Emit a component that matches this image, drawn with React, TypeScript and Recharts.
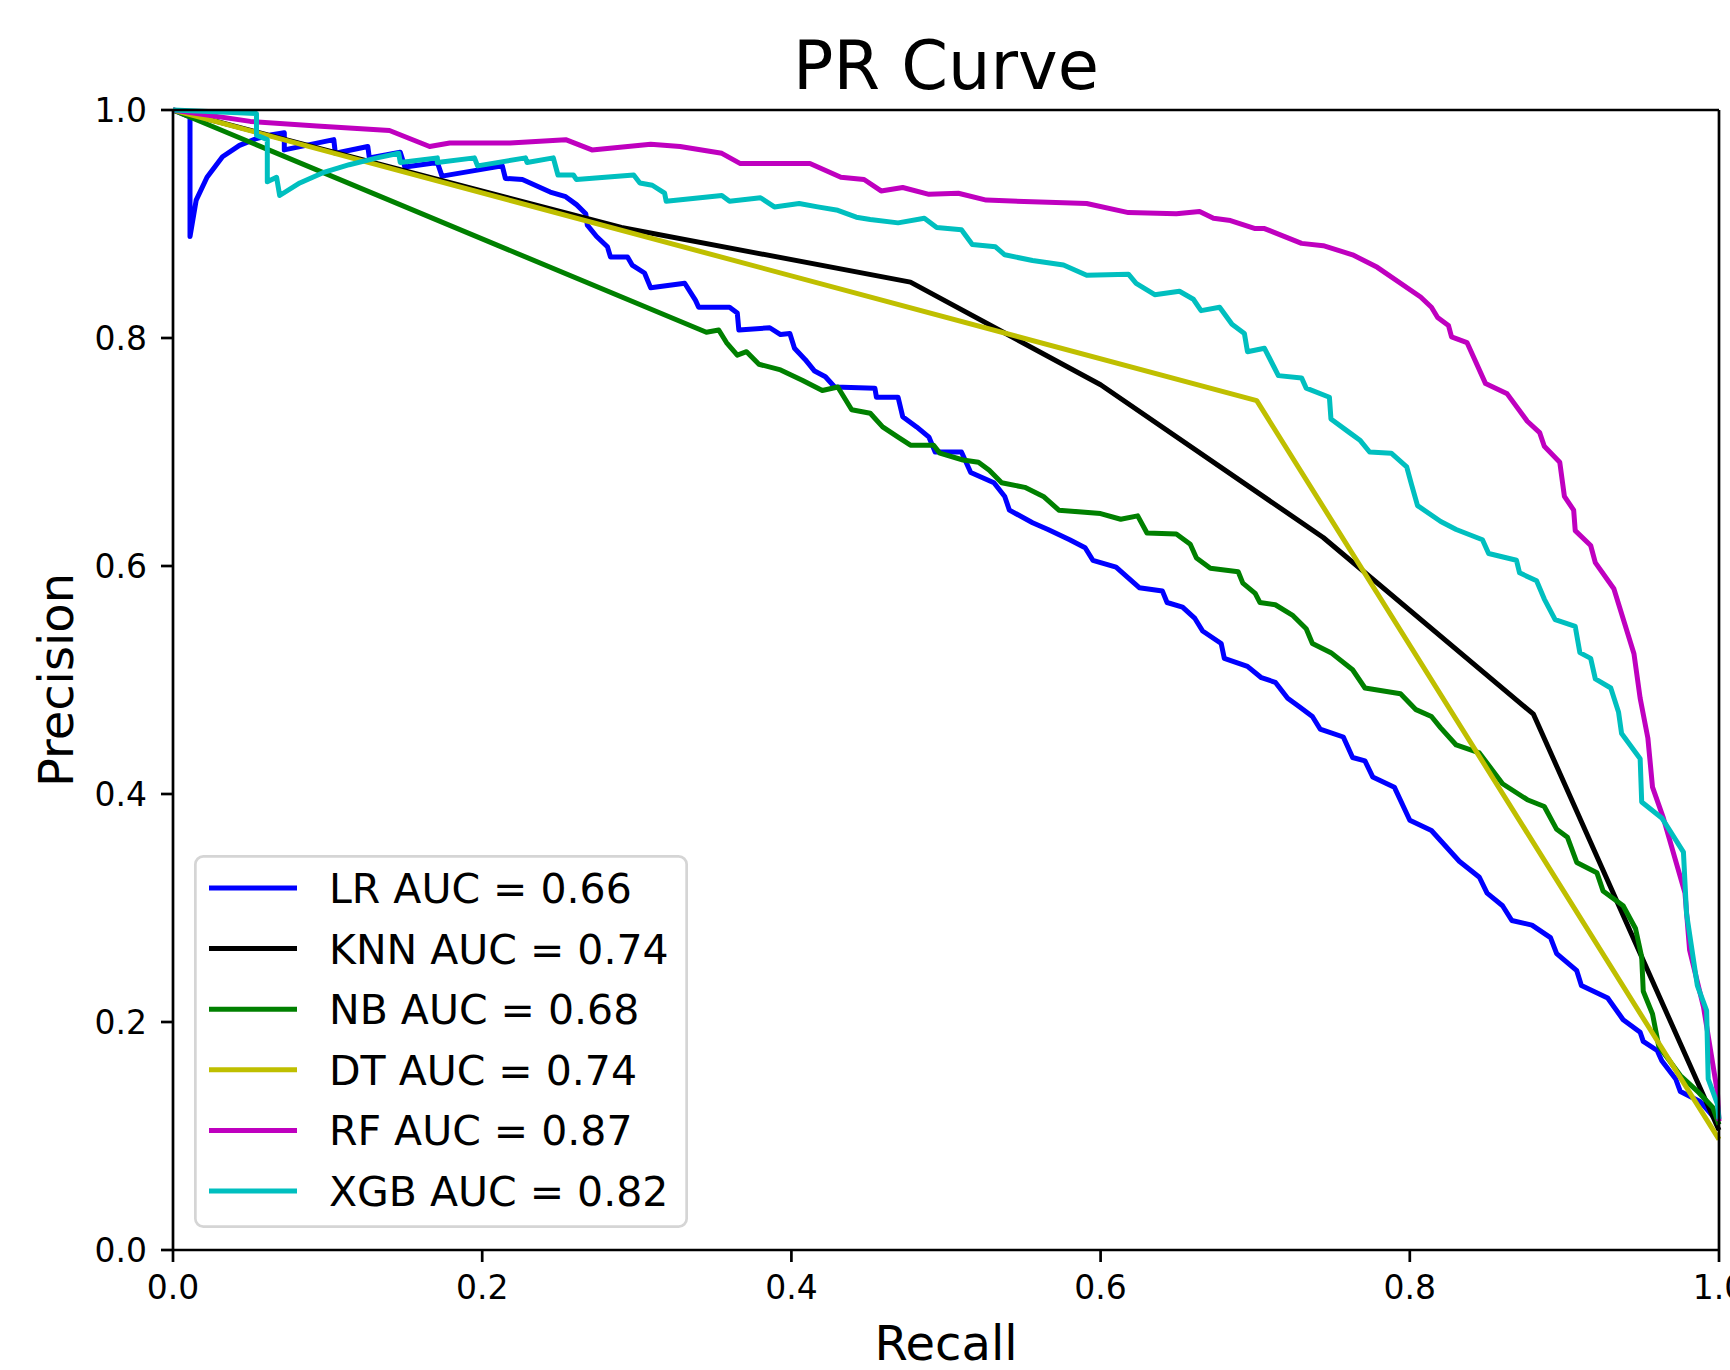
import React from 'react';
import {
  LineChart,
  Line,
  XAxis,
  YAxis,
  ReferenceLine,
  Legend
} from 'recharts';

// values: [recall, precision]
const lrPoints: [number, number][] = [
  [0, 1], [0.011, 0.994], [0.011, 0.889], [0.015, 0.921], [0.022, 0.941], [0.032, 0.959],
  [0.043, 0.969], [0.054, 0.975], [0.063, 0.978], [0.072, 0.98], [0.072, 0.965], [0.104, 0.974],
  [0.105, 0.962], [0.126, 0.968], [0.127, 0.958], [0.147, 0.963], [0.15, 0.95], [0.171, 0.954],
  [0.174, 0.942], [0.213, 0.951], [0.215, 0.94], [0.226, 0.939], [0.244, 0.928], [0.254, 0.924],
  [0.261, 0.917], [0.267, 0.909], [0.268, 0.899], [0.274, 0.889], [0.281, 0.88], [0.283, 0.871],
  [0.294, 0.871], [0.297, 0.864], [0.305, 0.857], [0.309, 0.844], [0.331, 0.848], [0.338, 0.833],
  [0.34, 0.827], [0.36, 0.827], [0.365, 0.822], [0.366, 0.807], [0.386, 0.809], [0.393, 0.803],
  [0.399, 0.804], [0.402, 0.791], [0.409, 0.781], [0.415, 0.771], [0.422, 0.766], [0.428, 0.757],
  [0.454, 0.756], [0.455, 0.748], [0.469, 0.748], [0.472, 0.731], [0.481, 0.722], [0.489, 0.713],
  [0.493, 0.7], [0.51, 0.7], [0.516, 0.682], [0.531, 0.673], [0.538, 0.661], [0.541, 0.649],
  [0.556, 0.638], [0.566, 0.632], [0.58, 0.623], [0.59, 0.616], [0.595, 0.605], [0.61, 0.599],
  [0.625, 0.581], [0.64, 0.578], [0.643, 0.568], [0.653, 0.564], [0.661, 0.554], [0.666, 0.543],
  [0.678, 0.532], [0.68, 0.519], [0.695, 0.512], [0.704, 0.502], [0.713, 0.498], [0.721, 0.484],
  [0.729, 0.476], [0.737, 0.468], [0.742, 0.457], [0.757, 0.45], [0.763, 0.432], [0.771, 0.429],
  [0.776, 0.415], [0.79, 0.406], [0.8, 0.377], [0.814, 0.368], [0.82, 0.359], [0.832, 0.341],
  [0.845, 0.327], [0.85, 0.313], [0.86, 0.302], [0.866, 0.289], [0.879, 0.285], [0.891, 0.274],
  [0.895, 0.26], [0.908, 0.245], [0.911, 0.232], [0.928, 0.221], [0.938, 0.202], [0.949, 0.191],
  [0.951, 0.183], [0.96, 0.175], [0.963, 0.166], [0.972, 0.15], [0.975, 0.139], [0.988, 0.13],
  [0.997, 0.116], [1, 0.112]
];

const knnPoints: [number, number][] = [
  [0, 1], [0.29, 0.897], [0.477, 0.849], [0.6, 0.759], [0.744, 0.625], [0.88, 0.47], [1, 0.105]
];

const nbPoints: [number, number][] = [
  [0, 1], [0.345, 0.805], [0.353, 0.807], [0.358, 0.796], [0.365, 0.785], [0.371, 0.788],
  [0.379, 0.777], [0.393, 0.772], [0.407, 0.763], [0.42, 0.754], [0.43, 0.757], [0.439, 0.737],
  [0.451, 0.734], [0.459, 0.722], [0.469, 0.713], [0.477, 0.706], [0.492, 0.706], [0.496, 0.699],
  [0.511, 0.693], [0.521, 0.691], [0.528, 0.684], [0.536, 0.673], [0.551, 0.669], [0.563, 0.661],
  [0.573, 0.649], [0.6, 0.646], [0.613, 0.641], [0.624, 0.644], [0.63, 0.629], [0.649, 0.628],
  [0.658, 0.619], [0.662, 0.607], [0.671, 0.598], [0.689, 0.595], [0.692, 0.585], [0.7, 0.576],
  [0.703, 0.568], [0.713, 0.566], [0.724, 0.557], [0.733, 0.545], [0.737, 0.532], [0.749, 0.524],
  [0.763, 0.509], [0.771, 0.493], [0.794, 0.488], [0.804, 0.474], [0.814, 0.468], [0.82, 0.458],
  [0.83, 0.443], [0.845, 0.436], [0.86, 0.409], [0.876, 0.395], [0.887, 0.389], [0.895, 0.369],
  [0.902, 0.362], [0.908, 0.34], [0.921, 0.331], [0.925, 0.315], [0.938, 0.302], [0.946, 0.282],
  [0.95, 0.257], [0.951, 0.227], [0.957, 0.207], [0.961, 0.179], [0.975, 0.153], [0.987, 0.138],
  [0.996, 0.125], [1, 0.11]
];

const dtPoints: [number, number][] = [
  [0, 1], [0.701, 0.745], [1, 0.097]
];

const rfPoints: [number, number][] = [
  [0, 1], [0.05, 0.99], [0.093, 0.986], [0.14, 0.982], [0.166, 0.968], [0.179, 0.971],
  [0.218, 0.971], [0.254, 0.974], [0.271, 0.965], [0.309, 0.97], [0.328, 0.968], [0.355, 0.962],
  [0.367, 0.953], [0.412, 0.953], [0.432, 0.941], [0.447, 0.939], [0.458, 0.929], [0.472, 0.932],
  [0.489, 0.926], [0.508, 0.927], [0.526, 0.921], [0.566, 0.919], [0.591, 0.918], [0.618, 0.91],
  [0.649, 0.909], [0.664, 0.911], [0.673, 0.905], [0.684, 0.903], [0.7, 0.896], [0.706, 0.896],
  [0.73, 0.883], [0.744, 0.881], [0.763, 0.873], [0.779, 0.862], [0.807, 0.836], [0.814, 0.827],
  [0.818, 0.818], [0.825, 0.811], [0.827, 0.801], [0.837, 0.796], [0.849, 0.76], [0.863, 0.751],
  [0.876, 0.727], [0.884, 0.717], [0.887, 0.705], [0.897, 0.691], [0.9, 0.661], [0.906, 0.649],
  [0.907, 0.631], [0.917, 0.618], [0.92, 0.603], [0.932, 0.58], [0.945, 0.523], [0.949, 0.484],
  [0.954, 0.449], [0.957, 0.406], [0.964, 0.379], [0.978, 0.313], [0.981, 0.263], [0.99, 0.213],
  [0.999, 0.138], [1, 0.113]
];

const xgbPoints: [number, number][] = [
  [0, 1], [0.054, 0.997], [0.054, 0.978], [0.061, 0.974], [0.061, 0.956], [0.061, 0.937],
  [0.067, 0.941], [0.069, 0.925], [0.082, 0.936], [0.097, 0.945], [0.114, 0.952], [0.132, 0.958],
  [0.146, 0.962], [0.147, 0.954], [0.171, 0.958], [0.171, 0.954], [0.195, 0.958], [0.197, 0.951],
  [0.228, 0.958], [0.229, 0.954], [0.246, 0.958], [0.249, 0.943], [0.259, 0.943], [0.261, 0.939],
  [0.298, 0.943], [0.302, 0.936], [0.31, 0.934], [0.318, 0.927], [0.319, 0.92], [0.355, 0.925],
  [0.36, 0.92], [0.38, 0.923], [0.389, 0.915], [0.405, 0.918], [0.417, 0.915], [0.43, 0.912],
  [0.442, 0.906], [0.451, 0.904], [0.469, 0.901], [0.486, 0.905], [0.494, 0.897], [0.51, 0.895],
  [0.517, 0.882], [0.532, 0.88], [0.538, 0.873], [0.556, 0.868], [0.576, 0.864], [0.591, 0.855],
  [0.618, 0.856], [0.623, 0.848], [0.635, 0.838], [0.651, 0.841], [0.66, 0.834], [0.665, 0.824],
  [0.677, 0.827], [0.685, 0.812], [0.693, 0.804], [0.695, 0.788], [0.706, 0.791], [0.712, 0.775],
  [0.715, 0.767], [0.73, 0.765], [0.733, 0.756], [0.748, 0.748], [0.749, 0.729], [0.761, 0.717],
  [0.768, 0.71], [0.774, 0.7], [0.788, 0.699], [0.798, 0.687], [0.801, 0.672], [0.805, 0.653],
  [0.82, 0.639], [0.83, 0.632], [0.847, 0.623], [0.851, 0.611], [0.869, 0.605], [0.871, 0.594],
  [0.882, 0.587], [0.887, 0.571], [0.894, 0.553], [0.907, 0.547], [0.91, 0.524], [0.917, 0.519],
  [0.92, 0.501], [0.93, 0.493], [0.935, 0.472], [0.937, 0.453], [0.949, 0.431], [0.95, 0.393],
  [0.963, 0.379], [0.977, 0.349], [0.979, 0.295], [0.986, 0.232], [0.992, 0.21], [0.993, 0.15],
  [0.999, 0.128], [1, 0.115]
];

const seriesNames = ['LR AUC = 0.66', 'KNN AUC = 0.74', 'NB AUC = 0.68', 'DT AUC = 0.74', 'RF AUC = 0.87', 'XGB AUC = 0.82'];
const seriesColors = ['#0000ff', '#000000', '#008000', '#bfbf00', '#bf00bf', '#00bfbf'];
const seriesPoints = [lrPoints, knnPoints, nbPoints, dtPoints, rfPoints, xgbPoints];

const xTicks = [0, 0.2, 0.4, 0.6, 0.8, 1];
const yTicks = [0, 0.2, 0.4, 0.6, 0.8, 1];

const W = 1730;
const H = 1370;
const FONT = 'DejaVu Sans';
const LINE_W = 5;

const series = seriesNames.map((name, i) => ({
  name,
  color: seriesColors[i],
  data: seriesPoints[i].map(([x, y]) => ({ x, y }))
}));

const renderLegend = () => (
  <svg width={494} height={373}>
    <rect x={1.35} y={1.35} width={491.3} height={370.3} rx={8} fill="#fff" fillOpacity={0.8} stroke="#d5d5d5" strokeWidth={2.7} />
    {series.map((s, i) => {
      const ly = 33 + i * 60.6;
      return (
        <g key={s.name}>
          <line x1={15} x2={103} y1={ly} y2={ly} stroke={s.color} strokeWidth={LINE_W} />
          <text x={135} y={ly + 15} fontSize={41} fontFamily={FONT} fill="#000">{s.name}</text>
        </g>
      );
    })}
  </svg>
);

export default function App() {
  const axisStroke = { stroke: '#000', strokeWidth: 2.7 };
  const tickStyle = { fontSize: 33, fill: '#000', fontFamily: FONT };

  return (
    <div style={{ position: 'absolute', left: 0, top: 0, width: W, height: H, background: '#fff' }}>
      <LineChart width={W} height={H} margin={{ top: 110, right: 11, bottom: 0, left: 0 }}>
        <XAxis
          type="number"
          dataKey="x"
          domain={[0, 1]}
          ticks={xTicks}
          tickFormatter={(v: number) => v.toFixed(1)}
          height={120}
          tick={tickStyle}
          tickLine={axisStroke}
          axisLine={axisStroke}
          tickSize={12}
          tickMargin={14}
          interval={0}
        />
        <YAxis
          type="number"
          domain={[0, 1]}
          ticks={yTicks}
          tickFormatter={(v: number) => v.toFixed(1)}
          width={173}
          tick={tickStyle}
          tickLine={axisStroke}
          axisLine={axisStroke}
          tickSize={12}
          tickMargin={14}
          interval={0}
        />
        {series.map(s => (
          <Line
            key={s.name}
            name={s.name}
            data={s.data}
            dataKey="y"
            type="linear"
            stroke={s.color}
            strokeWidth={LINE_W}
            strokeLinejoin="round"
            dot={false}
            activeDot={false}
            isAnimationActive={false}
          />
        ))}
        <ReferenceLine y={1} stroke="#000" strokeWidth={2.7} />
        <ReferenceLine x={1} stroke="#000" strokeWidth={2.7} />
        <Legend
          layout="vertical"
          align="center"
          verticalAlign="middle"
          content={renderLegend}
          wrapperStyle={{ left: 194, top: 855, width: 494, height: 373 }}
        />
      </LineChart>
      <svg width={W} height={H} style={{ position: 'absolute', left: 0, top: 0, pointerEvents: 'none' }}>
        <text x={946} y={89} textAnchor="middle" fontSize={67} fontFamily={FONT} fill="#000">PR Curve</text>
        <text x={946} y={1360} textAnchor="middle" fontSize={48} fontFamily={FONT} fill="#000">Recall</text>
        <text x={73} y={680} textAnchor="middle" fontSize={48} fontFamily={FONT} fill="#000" transform="rotate(-90 73 680)">Precision</text>
      </svg>
    </div>
  );
}
